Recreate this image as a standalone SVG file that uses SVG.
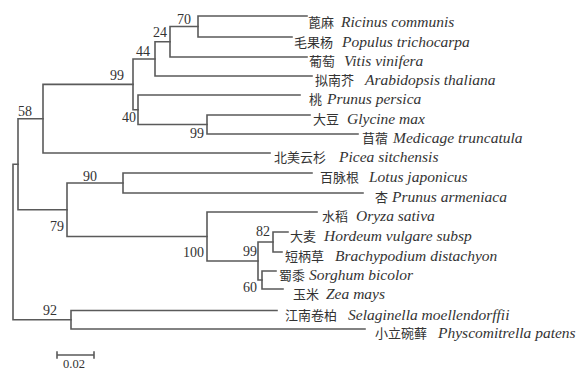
<svg xmlns="http://www.w3.org/2000/svg" width="577" height="370" viewBox="0 0 577 370">
<style>
.e{fill:none;stroke:#5a5a5a;stroke-width:1.6;stroke-linecap:square}
.b{font-family:"Liberation Serif","Noto Sans CJK SC",serif;font-size:14px;fill:#333}
.t{font-family:"Liberation Serif","Noto Sans CJK SC",serif;fill:#333}
.cn{font-family:"Noto Sans CJK SC",serif;font-size:13px}
.la{font-family:"Liberation Serif",serif;font-size:15.5px;font-style:italic}
</style>
<rect width="577" height="370" fill="#fff"/>
<g id="connectors" class="e">
<path d="M198,16V37M198,16H307M198,37H292"/>
<path d="M170,26.5V57M170,26.5H198M170,57H307"/>
<path d="M155,41.75V76M155,41.75H170M155,76H312"/>
<path d="M207,115V134M207,115H310M207,134H358"/>
<path d="M138,95V124.5M138,95H300M138,124.5H207"/>
<path d="M133,59V109.75M133,59H155M133,109.75H138"/>
<path d="M43,84.4V153M43,84.4H133M43,153H270"/>
<path d="M123,173V193M123,173H312M123,193H363"/>
<path d="M273,232V252M273,232H288M273,252H282"/>
<path d="M262,271V289M262,271H276M262,289H283"/>
<path d="M258,242V280M258,242H273M258,280H262"/>
<path d="M207,212V261M207,212H317M207,261H258"/>
<path d="M67,183V236.5M67,183H123M67,236.5H207"/>
<path d="M18,118.7V209.7M18,118.7H43M18,209.7H67"/>
<path d="M71,310.5V329M71,310.5H277M71,329H365"/>
<path d="M13,164.2V319.75M13,164.2H18M13,319.75H71"/>
<path d="M57,355H94M57,352V358M94,352V358"/>
</g>
<g id="bootstrap" class="b">
<text x="177" y="24">70</text>
<text x="153" y="37">24</text>
<text x="136" y="56">44</text>
<text x="110" y="80">99</text>
<text x="122" y="122">40</text>
<text x="190" y="138">99</text>
<text x="18" y="116">58</text>
<text x="83" y="181">90</text>
<text x="50" y="231">79</text>
<text x="183" y="257">100</text>
<text x="243" y="256">99</text>
<text x="256" y="236">82</text>
<text x="243" y="292">60</text>
<text x="43" y="315">92</text>
<text x="63" y="368" style="font-size:12.5px">0.02</text>
</g>
<g id="leaf-ricinus" class="t"><text x="308" y="27"><tspan class="cn">蓖麻</tspan><tspan class="la" x="341">Ricinus communis</tspan></text></g>
<g id="leaf-populus" class="t"><text x="294" y="47"><tspan class="cn">毛果杨</tspan><tspan class="la" x="342">Populus trichocarpa</tspan></text></g>
<g id="leaf-vitis" class="t"><text x="309" y="66"><tspan class="cn">葡萄</tspan><tspan class="la" x="344">Vitis vinifera</tspan></text></g>
<g id="leaf-arabidopsis" class="t"><text x="315" y="85"><tspan class="cn">拟南芥</tspan><tspan class="la" x="365">Arabidopsis thaliana</tspan></text></g>
<g id="leaf-prunus-persica" class="t"><text x="309" y="104"><tspan class="cn">桃</tspan><tspan class="la" x="327">Prunus persica</tspan></text></g>
<g id="leaf-glycine" class="t"><text x="313" y="124"><tspan class="cn">大豆</tspan><tspan class="la" x="347">Glycine max</tspan></text></g>
<g id="leaf-medicago" class="t"><text x="362" y="143"><tspan class="cn">苜蓿</tspan><tspan class="la" x="393">Medicage truncatula</tspan></text></g>
<g id="leaf-picea" class="t"><text x="274" y="162"><tspan class="cn">北美云杉</tspan><tspan class="la" x="339">Picea sitchensis</tspan></text></g>
<g id="leaf-lotus" class="t"><text x="320" y="182"><tspan class="cn">百脉根</tspan><tspan class="la" x="369">Lotus japonicus</tspan></text></g>
<g id="leaf-prunus-armeniaca" class="t"><text x="375" y="202"><tspan class="cn">杏</tspan><tspan class="la" x="392">Prunus armeniaca</tspan></text></g>
<g id="leaf-oryza" class="t"><text x="322" y="221"><tspan class="cn">水稻</tspan><tspan class="la" x="356">Oryza sativa</tspan></text></g>
<g id="leaf-hordeum" class="t"><text x="290" y="241"><tspan class="cn">大麦</tspan><tspan class="la" x="324">Hordeum vulgare subsp</tspan></text></g>
<g id="leaf-brachypodium" class="t"><text x="285" y="261"><tspan class="cn">短柄草</tspan><tspan class="la" x="335">Brachypodium distachyon</tspan></text></g>
<g id="leaf-sorghum" class="t"><text x="279" y="280"><tspan class="cn">蜀黍</tspan><tspan class="la" x="309">Sorghum bicolor</tspan></text></g>
<g id="leaf-zea" class="t"><text x="293" y="299"><tspan class="cn">玉米</tspan><tspan class="la" x="326">Zea mays</tspan></text></g>
<g id="leaf-selaginella" class="t"><text x="285" y="320"><tspan class="cn">江南卷柏</tspan><tspan class="la" x="348">Selaginella moellendorffii</tspan></text></g>
<g id="leaf-physcomitrella" class="t"><text x="375" y="338"><tspan class="cn">小立碗藓</tspan><tspan class="la" x="438">Physcomitrella patens</tspan></text></g>
</svg>
